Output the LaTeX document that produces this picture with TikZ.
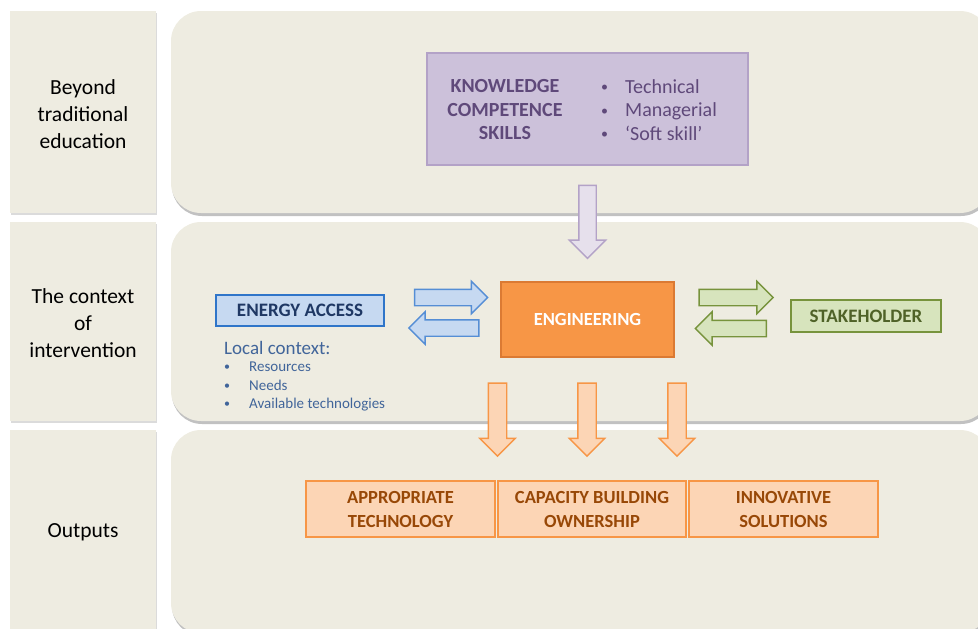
\documentclass[tikz,border=0pt]{standalone}
\usepackage{fontspec}
\setmainfont{Carlito}
\usetikzlibrary{shapes.arrows,positioning}
\definecolor{panelbg}{HTML}{EEECE1}
\definecolor{panelshade}{HTML}{A6A6A6}
\definecolor{purplefill}{HTML}{CCC1DA}
\definecolor{purpleline}{HTML}{B3A2C7}
\definecolor{purpletext}{HTML}{5F497A}
\definecolor{purplearrow}{HTML}{E6E0EC}
\definecolor{bluefill}{HTML}{C6D9F1}
\definecolor{blueline}{HTML}{558ED5}
\definecolor{bluebox}{HTML}{2F75C9}
\definecolor{bluetext}{HTML}{1F3864}
\definecolor{localtext}{HTML}{41659A}
\definecolor{engfill}{HTML}{F79646}
\definecolor{engline}{HTML}{DB7A33}
\definecolor{greenfill}{HTML}{D7E4BD}
\definecolor{greenline}{HTML}{77933C}
\definecolor{greentext}{HTML}{4F6228}
\definecolor{orangefill}{HTML}{FCD5B5}
\definecolor{orangeline}{HTML}{F79646}
\definecolor{orangetext}{HTML}{984807}

\newcommand{\skillbul}{\makebox[24pt][l]{\fontsize{14}{14}\selectfont\raisebox{1.5pt}{•}}}
\newcommand{\localbul}{\makebox[25pt][l]{\fontsize{12}{12}\selectfont\raisebox{1pt}{•}}}

\tikzset{
  rowlabel/.style={fill=panelbg, draw=none, minimum width=146pt, align=center,
    font=\fontsize{21.5}{27}\selectfont},
  panel/.style={fill=panelbg, rounded corners=30pt},
  panelshadow/.style={fill=panelshade!70, rounded corners=30pt},
  blockarrow/.style={single arrow, inner sep=0pt, line width=1.4pt,
    single arrow tip angle=90},
  outbox/.style={fill=orangefill, draw=orangeline, line width=2pt,
    minimum width=189pt, minimum height=56pt, align=center, text=orangetext,
    font=\bfseries\fontsize{18.5}{24}\selectfont},
}

\begin{document}
\begin{tikzpicture}[x=1pt,y=1pt,yscale=-1,xscale=1]
\useasboundingbox (0,0) rectangle (978,629);
\clip (0,0) rectangle (978,629);

%Shape: Row labels
\fill [panelshade!40] (11,13) rectangle (157,215);
\fill [panelshade!40] (11,224) rectangle (157,423);
\fill [panelshade!40] (11,432) rectangle (157,640);
\fill [panelbg] (10,11) rectangle (156,213);
\fill [panelbg] (10,222) rectangle (156,421);
\fill [panelbg] (10,430) rectangle (156,640);
% Text Node
\draw (83,114) node (beyondlbl) [rowlabel] {Beyond\\traditional\\education};
% Text Node
\draw (83,323.5) node (contextlbl) [rowlabel] {The context\\of\\intervention};
% Text Node
\draw (83,532.5) node (outputlbl) [rowlabel] {Outputs};

%Shape: Rounded panels
\fill [panelshadow] (172,14) rectangle (991,216);
\fill [panel] (171,11) rectangle (990,213);
\fill [panelshadow] (172,225) rectangle (991,424);
\fill [panel] (171,222) rectangle (990,421);
\fill [panelshadow] (172,433) rectangle (991,636);
\fill [panel] (171,430) rectangle (990,633);

%Shape: Rectangle [knowledge]
\draw (587.5,109) node (knowbox) [fill=purplefill, draw=purpleline, line width=1.5pt,
  minimum width=321pt, minimum height=112pt] {};
% Text Node
\draw (505,110) node (knowtxt) [align=center, text=purpletext,
  font=\bfseries\fontsize{20}{23.5}\selectfont] {KNOWLEDGE\\COMPETENCE\\SKILLS};
% Text Node
\draw (601,110) node (skilltxt) [anchor=west, inner sep=0pt, align=left, text=purpletext,
  font=\fontsize{20}{23.5}\selectfont]
  {\skillbul Technical\\\skillbul Managerial\\\skillbul ‘Soft skill’};

%Shape: Down arrow [purple]
\draw (587.5,217.5) node (knowarrow) [blockarrow, rotate=-90, fill=purplearrow, draw=purpleline,
  minimum height=73pt, minimum width=35pt, inner ysep=8pt, single arrow head extend=9.5pt] {};

%Shape: Rectangle [energy access]
\draw (300,310.5) node (energy) [fill=bluefill, draw=bluebox, line width=2.5pt,
  minimum width=168pt, minimum height=31pt, text=bluetext,
  font=\bfseries\fontsize{19}{23}\selectfont] {ENERGY ACCESS};
% Text Node
\draw (224,348) node (localtxt) [anchor=west, inner sep=0pt, text=localtext,
  font=\fontsize{19}{23}\selectfont] {Local context:};
% Text Node
\draw (224,386.5) node (localitems) [anchor=west, inner sep=0pt, align=left, text=localtext,
  font=\fontsize{15}{18.5}\selectfont]
  {\localbul Resources\\\localbul Needs\\\localbul Available technologies};

%Shape: Block arrows [blue]
\draw (447,297.5) node (blueright) [blockarrow, fill=bluefill, draw=blueline,
  minimum height=73pt, minimum width=31pt, inner ysep=7.5pt, single arrow head extend=8pt] {};
\draw (448,328) node (blueleft) [blockarrow, rotate=180, fill=bluefill, draw=blueline,
  minimum height=70pt, minimum width=31pt, inner ysep=7.5pt, single arrow head extend=8pt] {};

%Shape: Rectangle [engineering]
\draw (587.5,319.5) node (engineering) [fill=engfill, draw=engline, line width=1.5pt,
  minimum width=173pt, minimum height=75pt, text=white,
  font=\bfseries\fontsize{18.5}{23}\selectfont] {ENGINEERING};

%Shape: Block arrows [green]
\draw (732,297.5) node (greenright) [blockarrow, fill=greenfill, draw=greenline,
  minimum height=74pt, minimum width=31pt, inner ysep=7.5pt, single arrow head extend=8pt] {};
\draw (735,328.5) node (greenleft) [blockarrow, rotate=180, fill=greenfill, draw=greenline,
  minimum height=71pt, minimum width=32pt, inner ysep=7.5pt, single arrow head extend=8.5pt] {};

%Shape: Rectangle [stakeholder]
\draw (866,316) node (stakeholder) [fill=greenfill, draw=greenline, line width=1.8pt,
  minimum width=150pt, minimum height=32pt, text=greentext,
  font=\bfseries\fontsize{19}{23}\selectfont] {STAKEHOLDER};

%Shape: Down arrows [orange]
\foreach \ax [count=\i] in {497.5,587,677}
  \draw (\ax,415) node (outarrow\i) [blockarrow, rotate=-90, fill=orangefill, draw=orangeline,
    minimum height=73pt, minimum width=34pt, inner ysep=8.5pt, single arrow head extend=8.5pt] {};

%Shape: Output boxes
\draw (400.5,509) node (apptech) [outbox] {APPROPRIATE\\TECHNOLOGY};
\draw (592,509) node (capacity) [outbox, minimum width=188pt] {CAPACITY BUILDING\\OWNERSHIP};
\draw (783.5,509) node (innovative) [outbox] {INNOVATIVE\\SOLUTIONS};

\end{tikzpicture}
\end{document}
